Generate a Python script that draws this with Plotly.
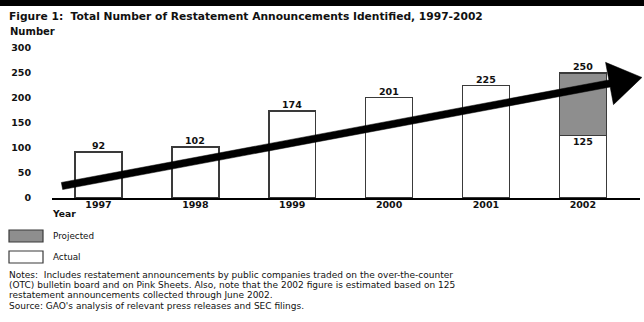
import plotly.graph_objects as go

# Restatement announcements per year
years = [1997, 1998, 1999, 2000, 2001, 2002]
actual = [92, 102, 174, 201, 225, 125]
projected_years = [2002]
projected = [125]
totals = [92, 102, 174, 201, 225, 250]
y_ticks = [0, 50, 100, 150, 200, 250, 300]

W, H = 644, 322
L, R, T, B = 52, 640, 48, 198  # plot area in pixels

def px_x(px):
    return (px - L) / (R - L)

def px_y(py):
    return (B - py) / (B - T)

FONT = "DejaVu Sans"
INK = "#111111"
EDGE = "#3a3a3a"
GRAY = "#8e8e8e"

fig = go.Figure()
fig.add_bar(x=years, y=actual, width=0.485, name="Actual",
            marker=dict(color="white", line=dict(color=EDGE, width=1.5)))
fig.add_bar(x=projected_years, y=projected, width=0.485, name="Projected",
            marker=dict(color=GRAY, line=dict(color=EDGE, width=1.5)))

annotations = []
for yr, tot in zip(years, totals):
    annotations.append(dict(x=yr, y=tot, xref="x", yref="y", text=str(tot),
                            showarrow=False, yanchor="middle", yshift=6.5,
                            font=dict(family=FONT, size=9.5, color=INK, weight="bold")))
# Actual portion of the 2002 bar
annotations.append(dict(x=projected_years[0], y=actual[-1], xref="x", yref="y",
                        text=str(actual[-1]), showarrow=False, yanchor="middle", yshift=-6,
                        font=dict(family=FONT, size=9.5, color=INK, weight="bold")))

def label(text, px, py, size, bold=False, anchor="left"):
    annotations.append(dict(x=px_x(px), y=px_y(py), xref="paper", yref="paper",
                            text=text, showarrow=False, xanchor=anchor, yanchor="middle",
                            font=dict(family=FONT, size=size, color=INK,
                                      weight="bold" if bold else "normal")))

label("Figure 1:  Total Number of Restatement Announcements Identified, 1997-2002", 7, 17, 10.7, True)
label("Number", 8, 31, 10, True)
label("Year", 50, 213, 9.2, True)
label("Projected", 51, 236, 8.8)
label("Actual", 51, 257, 8.8)
NOTE = 9.0
label("Notes:  Includes restatement announcements by public companies traded on the over-the-counter", 7, 275.3, NOTE)
label("(OTC) bulletin board and on Pink Sheets. Also, note that the 2002 figure is estimated based on 125", 7, 285.2, NOTE)
label("restatement announcements collected through June 2002.", 7, 295.1, NOTE)
label("Source: GAO's analysis of relevant press releases and SEC filings.", 7, 306.3, NOTE)

shapes = []
# Black band across the top
shapes.append(dict(type="rect", xref="paper", yref="paper", x0=px_x(0), x1=px_x(W),
                   y0=px_y(6), y1=px_y(0), fillcolor="black", line=dict(width=0)))
# Legend swatches
shapes.append(dict(type="rect", xref="paper", yref="paper", x0=px_x(9), x1=px_x(43),
                   y0=px_y(242), y1=px_y(230), fillcolor=GRAY, line=dict(color=EDGE, width=1.2)))
shapes.append(dict(type="rect", xref="paper", yref="paper", x0=px_x(9), x1=px_x(43),
                   y0=px_y(263), y1=px_y(251), fillcolor="white", line=dict(color=EDGE, width=1.2)))

# Trend arrow overlay
sx, sy = 62, 186          # tail
bx, by = 609.5, 83.5      # base of head
dx, dy = bx - sx, by - sy
ln = (dx * dx + dy * dy) ** 0.5
ux, uy = dx / ln, dy / ln
nx, ny = -uy, ux
half_shaft, half_head, head_len = 3.6, 21.5, 33
pts = [
    (sx + nx * half_shaft, sy + ny * half_shaft),
    (bx + nx * half_shaft, by + ny * half_shaft),
    (bx + nx * half_head, by + ny * half_head),
    (bx + ux * head_len, by + uy * head_len),
    (bx - nx * half_head, by - ny * half_head),
    (bx - nx * half_shaft, by - ny * half_shaft),
    (sx - nx * half_shaft, sy - ny * half_shaft),
]
path = "M " + " L ".join(f"{px_x(x):.5f},{px_y(y):.5f}" for x, y in pts) + " Z"
shapes.append(dict(type="path", xref="paper", yref="paper", path=path,
                   fillcolor="black", line=dict(color="black", width=0.5)))

fig.update_layout(
    width=W, height=H, barmode="stack", showlegend=False,
    margin=dict(l=L, r=W - R, t=T, b=H - B),
    paper_bgcolor="white", plot_bgcolor="white",
    annotations=annotations, shapes=shapes,
    xaxis=dict(range=[1996.52, 2002.59], tickvals=years, ticktext=[str(y) for y in years],
               showline=True, linecolor="black", linewidth=2, showgrid=False, zeroline=False,
               ticks="", ticklabelstandoff=-3,
               tickfont=dict(family=FONT, size=9.5, color=INK, weight="bold")),
    yaxis=dict(range=[0, 300], tickvals=y_ticks, showline=False, showgrid=False, zeroline=False,
               ticks="", ticklabelstandoff=20,
               tickfont=dict(family=FONT, size=9.5, color=INK, weight="bold")),
)

fig.write_html("out.html")
